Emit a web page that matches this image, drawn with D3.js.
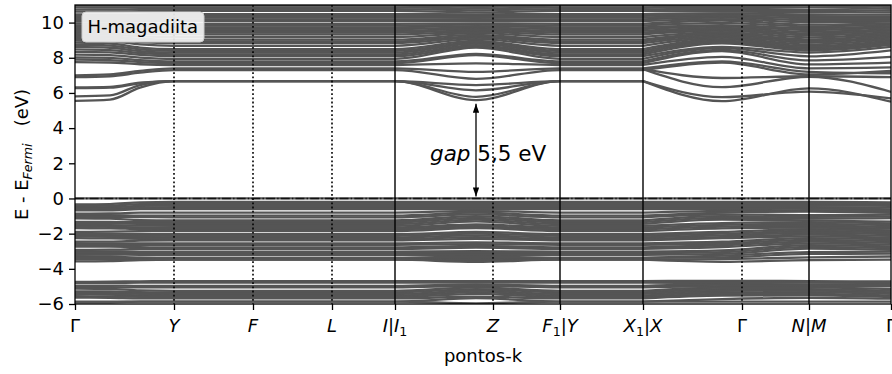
<!DOCTYPE html>
<html>
<head>
<meta charset="utf-8">
<script src="https://cdn.jsdelivr.net/npm/d3@7"></script>
<style>
  body { margin: 0; background: #fff; }
  svg { display: block; }
  text { font-family: "DejaVu Sans", sans-serif; fill: #000; }
</style>
</head>
<body>
<svg id="chart" width="892" height="374"></svg>
<script>
// k-path sample points (distance along the path). The path jumps at X1|X,
// so the two samples at 5.68 start a new piece.
const kNodes = [0, 0.35, 0.65, 0.99, 3.20, 4.01, 4.85, 5.68, 5.68, 6.47, 7.34, 8.16];
const pieceStarts = [0, 8];

// high-symmetry points
const kTickPos = [0, 0.99, 1.78, 2.57, 3.20, 4.18, 4.85, 5.68, 6.67, 7.34, 8.16];
const kTickLabels = ["Γ", "Y", "F", "L", "I|I_1", "Z", "F_1|Y", "X_1|X", "Γ", "N|M", "Γ"];
const solidSeparators = [3.20, 4.85, 5.68, 7.34];
const dottedSeparators = [0.99, 1.78, 2.57, 4.18, 6.67];

const energyTicks = [-6, -4, -2, 0, 2, 4, 6, 8, 10];
const energyRange = [-6, 11];

// band energies (eV) at kNodes
const conductionBands = [
  [5.55, 5.62, 6.30, 6.67, 6.67, 5.59, 6.67, 6.67, 6.67, 5.53, 6.26, 5.50],
  [5.80, 5.86, 6.45, 6.67, 6.67, 5.78, 6.67, 6.67, 6.67, 5.76, 6.08, 5.69],
  [6.27, 6.30, 6.55, 6.67, 6.67, 6.15, 6.67, 6.67, 7.35, 6.33, 6.92, 6.06],
  [6.31, 6.34, 6.58, 6.67, 6.67, 6.45, 6.67, 6.67, 7.35, 6.85, 6.95, 6.90],
  [6.90, 6.95, 7.15, 7.30, 7.30, 6.80, 7.30, 7.30, 7.30, 7.72, 7.05, 7.25],
  [7.00, 7.05, 7.25, 7.40, 7.40, 7.20, 7.40, 7.40, 7.40, 7.80, 7.20, 7.12],
  [7.75, 7.73, 7.63, 7.59, 7.59, 7.68, 7.59, 7.59, 7.59, 8.05, 7.40, 7.45],
  [7.90, 7.87, 7.75, 7.69, 7.69, 8.15, 7.69, 7.69, 7.69, 8.38, 7.62, 7.72],
  [8.02, 7.99, 7.86, 7.79, 7.79, 8.22, 7.79, 7.79, 7.79, 8.45, 7.85, 8.05],
  [8.18, 8.15, 8.01, 7.94, 7.94, 8.58, 7.94, 7.94, 7.94, 8.55, 8.08, 8.42],
  [8.34, 8.31, 8.16, 8.09, 8.09, 8.65, 8.09, 8.09, 8.09, 8.62, 8.30, 8.62],
  [8.48, 8.44, 8.27, 8.19, 8.19, 8.72, 8.19, 8.19, 8.19, 8.82, 8.42, 8.74],
  [8.62, 8.57, 8.38, 8.29, 8.29, 8.80, 8.29, 8.29, 8.29, 8.90, 8.50, 8.82],
  [8.74, 8.69, 8.48, 8.39, 8.39, 8.88, 8.39, 8.39, 8.39, 8.98, 8.58, 8.90],
  [8.86, 8.81, 8.58, 8.49, 8.49, 8.96, 8.49, 8.49, 8.49, 9.06, 8.66, 8.98],
  [8.98, 8.94, 8.76, 8.68, 8.68, 9.06, 8.68, 8.68, 8.68, 9.14, 8.76, 9.06],
  [9.08, 9.05, 8.89, 8.83, 8.83, 9.14, 8.83, 8.83, 8.83, 9.22, 8.86, 9.14],
  [9.17, 9.14, 8.99, 8.93, 8.93, 9.22, 8.93, 8.93, 8.93, 9.30, 8.95, 9.22],
  [9.25, 9.22, 9.08, 9.03, 9.03, 9.30, 9.03, 9.03, 9.03, 9.38, 9.04, 9.30],
  [9.34, 9.32, 9.22, 9.18, 9.18, 9.40, 9.18, 9.18, 9.18, 9.46, 9.16, 9.38],
  [9.43, 9.42, 9.36, 9.33, 9.33, 9.48, 9.33, 9.33, 9.33, 9.54, 9.28, 9.46],
  [9.51, 9.50, 9.45, 9.43, 9.43, 9.56, 9.43, 9.43, 9.43, 9.62, 9.38, 9.55],
  [9.59, 9.58, 9.55, 9.53, 9.53, 9.64, 9.53, 9.53, 9.53, 9.70, 9.48, 9.63],
  [9.67, 9.66, 9.64, 9.63, 9.63, 9.72, 9.63, 9.63, 9.63, 9.78, 9.58, 9.72],
  [9.75, 9.75, 9.74, 9.73, 9.73, 9.80, 9.73, 9.73, 9.73, 9.86, 9.68, 9.80],
  [9.84, 9.84, 9.83, 9.83, 9.83, 9.88, 9.83, 9.83, 9.83, 9.98, 9.78, 9.88],
  [9.94, 9.94, 9.93, 9.93, 9.93, 9.96, 9.93, 9.93, 9.93, 10.12, 9.88, 9.96],
  [10.06, 10.06, 10.07, 10.08, 10.08, 10.10, 10.08, 10.08, 10.08, 10.20, 10.02, 10.05],
  [10.16, 10.16, 10.17, 10.18, 10.18, 10.19, 10.18, 10.18, 10.18, 10.28, 10.14, 10.15],
  [10.26, 10.26, 10.27, 10.28, 10.28, 10.28, 10.28, 10.28, 10.28, 10.36, 10.25, 10.25],
  [10.36, 10.36, 10.37, 10.38, 10.38, 10.38, 10.38, 10.38, 10.38, 10.44, 10.36, 10.35],
  [10.46, 10.46, 10.47, 10.48, 10.48, 10.47, 10.48, 10.48, 10.48, 10.52, 10.46, 10.45],
  [10.62, 10.63, 10.65, 10.67, 10.67, 10.58, 10.67, 10.67, 10.67, 10.62, 10.60, 10.58],
  [10.74, 10.75, 10.76, 10.77, 10.77, 10.70, 10.77, 10.77, 10.77, 10.72, 10.72, 10.68],
  [10.86, 10.86, 10.87, 10.87, 10.87, 10.80, 10.87, 10.87, 10.87, 10.82, 10.86, 10.78],
  [10.96, 10.96, 10.97, 10.97, 10.97, 10.90, 10.97, 10.97, 10.97, 10.92, 10.96, 10.88],
  [11.06, 11.06, 11.07, 11.07, 11.07, 11.00, 11.07, 11.07, 11.07, 11.02, 11.06, 10.98]
];

const valenceBands = [
  [0, 0, 0, 0, 0, 0, 0, 0, 0, 0, 0, 0],
  [-0.34, -0.32, -0.22, -0.20, -0.20, -0.20, -0.20, -0.20, -0.20, -0.20, -0.20, -0.22],
  [-0.43, -0.41, -0.32, -0.30, -0.30, -0.30, -0.30, -0.30, -0.30, -0.30, -0.30, -0.32],
  [-0.52, -0.50, -0.42, -0.40, -0.40, -0.40, -0.40, -0.40, -0.40, -0.40, -0.40, -0.42],
  [-0.60, -0.59, -0.52, -0.50, -0.50, -0.50, -0.50, -0.50, -0.50, -0.50, -0.50, -0.52],
  [-0.68, -0.67, -0.61, -0.60, -0.60, -0.60, -0.60, -0.60, -0.60, -0.60, -0.58, -0.62],
  [-0.86, -0.85, -0.81, -0.80, -0.80, -0.70, -0.80, -0.80, -0.80, -0.70, -0.67, -0.72],
  [-0.95, -0.95, -0.97, -0.97, -0.97, -0.80, -0.97, -0.97, -0.97, -0.80, -0.75, -0.82],
  [-1.04, -1.04, -1.06, -1.07, -1.07, -0.90, -1.07, -1.07, -1.07, -0.90, -0.95, -0.92],
  [-1.13, -1.15, -1.23, -1.25, -1.25, -1.00, -1.25, -1.25, -1.25, -1.00, -1.05, -1.02],
  [-1.33, -1.33, -1.35, -1.35, -1.35, -1.10, -1.35, -1.35, -1.35, -1.10, -1.15, -1.12],
  [-1.42, -1.42, -1.44, -1.45, -1.45, -1.20, -1.45, -1.45, -1.45, -1.20, -1.25, -1.32],
  [-1.51, -1.52, -1.54, -1.55, -1.55, -1.30, -1.55, -1.55, -1.55, -1.40, -1.35, -1.42],
  [-1.60, -1.61, -1.64, -1.65, -1.65, -1.48, -1.65, -1.65, -1.65, -1.50, -1.45, -1.52],
  [-1.69, -1.70, -1.74, -1.75, -1.75, -1.58, -1.75, -1.75, -1.75, -1.60, -1.55, -1.62],
  [-1.90, -1.89, -1.86, -1.85, -1.85, -1.68, -1.85, -1.85, -1.85, -1.70, -1.65, -1.72],
  [-1.99, -2.00, -2.02, -2.03, -2.03, -1.90, -2.03, -2.03, -2.03, -1.90, -1.75, -1.82],
  [-2.08, -2.09, -2.11, -2.12, -2.12, -2.00, -2.12, -2.12, -2.12, -2.00, -1.85, -1.92],
  [-2.17, -2.18, -2.20, -2.21, -2.21, -2.10, -2.21, -2.21, -2.21, -2.10, -1.95, -2.02],
  [-2.26, -2.27, -2.29, -2.30, -2.30, -2.20, -2.30, -2.30, -2.30, -2.20, -2.05, -2.12],
  [-2.46, -2.45, -2.40, -2.38, -2.38, -2.30, -2.38, -2.38, -2.38, -2.26, -2.15, -2.22],
  [-2.55, -2.55, -2.55, -2.55, -2.55, -2.50, -2.55, -2.55, -2.55, -2.46, -2.25, -2.32],
  [-2.64, -2.64, -2.63, -2.63, -2.63, -2.60, -2.63, -2.63, -2.63, -2.56, -2.35, -2.42],
  [-2.73, -2.74, -2.77, -2.78, -2.78, -2.70, -2.78, -2.78, -2.78, -2.66, -2.45, -2.52],
  [-2.92, -2.91, -2.87, -2.86, -2.86, -2.80, -2.86, -2.86, -2.86, -2.76, -2.55, -2.62],
  [-3.01, -3.01, -3.02, -3.02, -3.02, -3.00, -3.02, -3.02, -3.02, -2.95, -2.65, -2.72],
  [-3.10, -3.10, -3.11, -3.11, -3.11, -3.10, -3.11, -3.11, -3.11, -3.05, -2.75, -2.82],
  [-3.19, -3.19, -3.20, -3.20, -3.20, -3.20, -3.20, -3.20, -3.20, -3.15, -2.85, -2.92],
  [-3.28, -3.30, -3.36, -3.38, -3.38, -3.30, -3.38, -3.38, -3.38, -3.25, -3.05, -3.02],
  [-3.37, -3.37, -3.38, -3.38, -3.38, -3.40, -3.38, -3.38, -3.38, -3.35, -3.15, -3.14],
  [-3.46, -3.46, -3.48, -3.48, -3.48, -3.50, -3.48, -3.48, -3.48, -3.45, -3.35, -3.30],
  [-3.58, -3.56, -3.50, -3.48, -3.48, -3.60, -3.48, -3.48, -3.48, -3.60, -3.50, -3.48]
];

const lowerBands = [
  [-4.74, -4.73, -4.71, -4.70, -4.70, -4.70, -4.70, -4.70, -4.70, -4.68, -4.70, -4.72],
  [-4.80, -4.80, -4.79, -4.79, -4.79, -4.79, -4.79, -4.79, -4.79, -4.80, -4.79, -4.81],
  [-4.95, -4.95, -4.97, -4.97, -4.97, -4.88, -4.97, -4.97, -4.97, -4.89, -4.88, -4.90],
  [-5.04, -5.04, -5.06, -5.06, -5.06, -4.97, -5.06, -5.06, -5.06, -4.98, -4.97, -4.99],
  [-5.12, -5.14, -5.23, -5.25, -5.25, -5.06, -5.25, -5.25, -5.25, -5.07, -5.06, -5.16],
  [-5.28, -5.29, -5.33, -5.34, -5.34, -5.15, -5.34, -5.34, -5.34, -5.16, -5.15, -5.25],
  [-5.37, -5.38, -5.42, -5.43, -5.43, -5.24, -5.43, -5.43, -5.43, -5.25, -5.24, -5.34],
  [-5.45, -5.46, -5.51, -5.52, -5.52, -5.33, -5.52, -5.52, -5.52, -5.34, -5.33, -5.43],
  [-5.56, -5.57, -5.60, -5.61, -5.61, -5.42, -5.61, -5.61, -5.61, -5.43, -5.42, -5.52],
  [-5.64, -5.65, -5.68, -5.68, -5.68, -5.58, -5.68, -5.68, -5.68, -5.52, -5.51, -5.61],
  [-5.86, -5.86, -5.86, -5.86, -5.86, -5.67, -5.86, -5.86, -5.86, -5.72, -5.65, -5.70],
  [-5.90, -5.90, -5.87, -5.86, -5.86, -5.96, -5.86, -5.86, -5.86, -5.86, -5.86, -5.86]
];

// band gap annotation
const gapK = 4.01;
const gapValue = 5.5;
const gapText = "5,5 eV";
const systemName = "H-magadiita";

// ---- layout ----
const svg = d3.select("#chart");
const plot = { left: 75, right: 891, top: 5, bottom: 304 };

const x = d3.scaleLinear().domain([0, kTickPos[kTickPos.length - 1]]).range([plot.left, plot.right]);
const y = d3.scaleLinear().domain(energyRange).range([plot.bottom, plot.top]);

const defs = svg.append("defs");
defs.append("clipPath").attr("id", "plotClip")
  .append("rect")
  .attr("x", plot.left).attr("y", plot.top)
  .attr("width", plot.right - plot.left).attr("height", plot.bottom - plot.top);

defs.append("marker")
  .attr("id", "arrowHead")
  .attr("viewBox", "0 0 10 7")
  .attr("refX", 10).attr("refY", 3.5)
  .attr("markerWidth", 9).attr("markerHeight", 6.5)
  .attr("markerUnits", "userSpaceOnUse")
  .attr("orient", "auto-start-reverse")
  .append("path").attr("d", "M0,0 L10,3.5 L0,7 Z").attr("fill", "#000");

const line = d3.line()
  .x(d => x(d[0]))
  .y(d => y(d[1]))
  .curve(d3.curveMonotoneX);

// split each band into the continuous pieces of the k-path
function pieces(values) {
  const out = [];
  pieceStarts.forEach((s, i) => {
    const e = i + 1 < pieceStarts.length ? pieceStarts[i + 1] : kNodes.length;
    const pts = [];
    for (let j = s; j < e; j++) pts.push([kNodes[j], values[j]]);
    out.push(pts);
  });
  return out;
}

const bandLayer = svg.append("g").attr("clip-path", "url(#plotClip)");
const allBands = [].concat(lowerBands, valenceBands, conductionBands);
allBands.forEach(b => {
  pieces(b).forEach(p => {
    bandLayer.append("path")
      .attr("d", line(p))
      .attr("fill", "none")
      .attr("stroke", "#555")
      .attr("stroke-width", 2.3);
  });
});

// Fermi level (dash-dot)
bandLayer.append("line")
  .attr("x1", plot.left).attr("x2", plot.right)
  .attr("y1", y(0)).attr("y2", y(0))
  .attr("stroke", "#111").attr("stroke-width", 1.4)
  .attr("stroke-dasharray", "8.9,2.2,1.4,2.2");

// high-symmetry separators
const sepLayer = svg.append("g");
solidSeparators.forEach(k => {
  sepLayer.append("line")
    .attr("x1", x(k)).attr("x2", x(k))
    .attr("y1", plot.top).attr("y2", plot.bottom)
    .attr("stroke", "#000").attr("stroke-width", 1.4);
});
dottedSeparators.forEach(k => {
  sepLayer.append("line")
    .attr("x1", x(k)).attr("x2", x(k))
    .attr("y1", plot.top).attr("y2", plot.bottom)
    .attr("stroke", "#000").attr("stroke-width", 1.6)
    .attr("stroke-dasharray", "1.8,2.4");
});

// frame
svg.append("rect")
  .attr("x", plot.left).attr("y", plot.top)
  .attr("width", plot.right - plot.left).attr("height", plot.bottom - plot.top)
  .attr("fill", "none").attr("stroke", "#000").attr("stroke-width", 1.3);

// energy axis
const yAxis = svg.append("g")
  .attr("transform", `translate(${plot.left},0)`)
  .call(d3.axisLeft(y).tickValues(energyTicks).tickSize(6).tickPadding(5).tickFormat(d3.format("d")));
yAxis.select(".domain").remove();
yAxis.selectAll(".tick line").attr("stroke", "#000").attr("stroke-width", 1.3);
yAxis.selectAll(".tick text")
  .attr("font-size", 18).attr("font-family", "DejaVu Sans").attr("fill", "#000");

// k axis
const xAxis = svg.append("g")
  .attr("transform", `translate(0,${plot.bottom})`)
  .call(d3.axisBottom(x).tickValues(kTickPos).tickSize(6).tickFormat(""));
xAxis.select(".domain").remove();
xAxis.selectAll(".tick line").attr("stroke", "#000").attr("stroke-width", 1.3);

// k labels: italic letters, upright Γ and bars, "_n" subscripts
function mathLabel(sel, str) {
  let shift = 0;
  for (let i = 0; i < str.length; i++) {
    const ch = str[i];
    if (ch === "_") {
      sel.append("tspan").attr("dy", 4 - shift).attr("font-size", 12.6).attr("font-style", "normal").text(str[i + 1]);
      shift = 4;
      i++;
      continue;
    }
    const upright = ch === "Γ" || ch === "|";
    sel.append("tspan")
      .attr("dy", -shift)
      .attr("font-style", upright ? "normal" : "italic")
      .text(ch);
    shift = 0;
  }
}
kTickPos.forEach((k, i) => {
  const t = svg.append("text")
    .attr("x", x(k)).attr("y", 332)
    .attr("text-anchor", "middle")
    .attr("font-size", 18);
  mathLabel(t, kTickLabels[i]);
});

// axis titles
svg.append("text")
  .attr("x", (plot.left + plot.right) / 2).attr("y", 362)
  .attr("text-anchor", "middle").attr("font-size", 18)
  .text("pontos-k");

const yTitle = svg.append("text")
  .attr("transform", `translate(28,${(plot.top + plot.bottom) / 2}) rotate(-90)`)
  .attr("text-anchor", "middle").attr("font-size", 18);
yTitle.append("tspan").text("E - E");
yTitle.append("tspan").attr("dy", 4).attr("font-size", 12.6).attr("font-style", "italic").text("Fermi");
yTitle.append("tspan").attr("dy", -4).text("\u00a0\u00a0\u00a0(eV)");

// gap arrow and label
svg.append("line")
  .attr("x1", x(gapK)).attr("x2", x(gapK))
  .attr("y1", y(0) - 2).attr("y2", y(gapValue) + 2)
  .attr("stroke", "#000").attr("stroke-width", 1.3)
  .attr("marker-start", "url(#arrowHead)")
  .attr("marker-end", "url(#arrowHead)");

const gapLabel = svg.append("text")
  .attr("x", 430).attr("y", 161).attr("font-size", 21.5);
gapLabel.append("tspan").attr("font-style", "italic").text("gap");
gapLabel.append("tspan").text("\u00a0" + gapText);

// system label box
svg.append("rect")
  .attr("x", 82).attr("y", 12).attr("width", 122).attr("height", 30)
  .attr("rx", 4).attr("ry", 4)
  .attr("fill", "#fff").attr("fill-opacity", 0.86)
  .attr("stroke", "#ccc").attr("stroke-width", 1);
svg.append("text")
  .attr("x", 87.5).attr("y", 33).attr("font-size", 18)
  .text(systemName);
</script>
</body>
</html>
